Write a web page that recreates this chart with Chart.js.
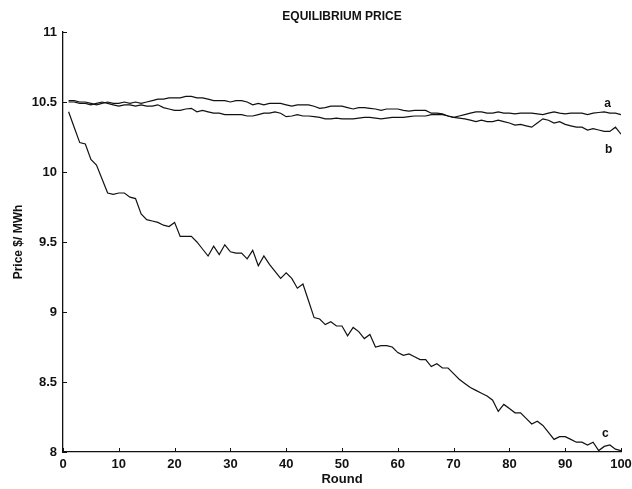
<!DOCTYPE html>
<html>
<head>
<meta charset="utf-8">
<script src="https://cdn.jsdelivr.net/npm/chart.js@4/dist/chart.umd.min.js"></script>
<style>
html,body{margin:0;padding:0;background:#fff;}
#wrap{width:632px;height:489px;position:relative;}
</style>
</head>
<body>
<div id="wrap"><canvas id="c" width="632" height="489"></canvas></div>
<script>
const rounds = Array.from({length: 100}, (_, i) => i + 1);

const seriesA = [10.50,10.50,10.49,10.49,10.48,10.49,10.50,10.49,10.48,10.47,
 10.48,10.48,10.47,10.48,10.47,10.47,10.48,10.46,10.45,10.44,
 10.44,10.45,10.455,10.43,10.44,10.43,10.42,10.42,10.41,10.41,
 10.41,10.41,10.40,10.40,10.41,10.42,10.42,10.43,10.42,10.395,
 10.40,10.41,10.40,10.40,10.395,10.39,10.38,10.38,10.385,10.38,
 10.38,10.38,10.385,10.39,10.39,10.385,10.38,10.385,10.39,10.39,
 10.39,10.395,10.40,10.40,10.40,10.41,10.41,10.41,10.40,10.39,
 10.40,10.41,10.42,10.43,10.43,10.42,10.42,10.43,10.42,10.42,
 10.415,10.42,10.42,10.42,10.415,10.41,10.42,10.43,10.42,10.415,
 10.42,10.42,10.42,10.41,10.42,10.425,10.43,10.42,10.42,10.41];

const seriesB = [10.51,10.51,10.50,10.50,10.49,10.48,10.49,10.50,10.49,10.49,
 10.50,10.49,10.50,10.49,10.50,10.51,10.52,10.52,10.53,10.53,
 10.53,10.54,10.54,10.53,10.53,10.52,10.51,10.51,10.51,10.50,
 10.51,10.51,10.50,10.48,10.49,10.48,10.49,10.49,10.49,10.48,
 10.47,10.48,10.48,10.48,10.47,10.455,10.46,10.47,10.47,10.47,
 10.46,10.45,10.46,10.46,10.455,10.45,10.44,10.45,10.45,10.45,
 10.44,10.435,10.44,10.44,10.44,10.42,10.42,10.415,10.40,10.39,
 10.385,10.38,10.37,10.36,10.37,10.36,10.36,10.37,10.36,10.35,
 10.335,10.34,10.33,10.32,10.35,10.38,10.37,10.35,10.36,10.34,
 10.33,10.32,10.32,10.30,10.31,10.30,10.29,10.29,10.32,10.27];

const seriesC = [10.43,10.32,10.21,10.20,10.09,10.05,9.95,9.85,9.84,9.85,
 9.85,9.82,9.81,9.70,9.66,9.65,9.64,9.62,9.61,9.64,
 9.54,9.54,9.54,9.50,9.45,9.40,9.47,9.41,9.48,9.43,
 9.42,9.42,9.38,9.44,9.33,9.40,9.34,9.29,9.24,9.28,
 9.24,9.17,9.20,9.08,8.96,8.95,8.91,8.93,8.90,8.90,
 8.83,8.89,8.86,8.81,8.84,8.75,8.76,8.76,8.75,8.71,
 8.69,8.70,8.68,8.66,8.66,8.61,8.63,8.60,8.60,8.56,
 8.52,8.49,8.46,8.44,8.42,8.40,8.37,8.29,8.34,8.31,
 8.28,8.28,8.24,8.20,8.22,8.19,8.14,8.09,8.11,8.11,
 8.09,8.07,8.07,8.05,8.07,8.01,8.04,8.05,8.02,8.01];

const seriesNames = ['a', 'b', 'c'];
const labelX = [97.6, 97.8, 97.2];
const labelY = [10.49, 10.16, 8.13];

const xTicks = [0,10,20,30,40,50,60,70,80,90,100];
const yTicks = [8,8.5,9,9.5,10,10.5,11];

const FONT = "'Liberation Sans', Arial, Helvetica, sans-serif";
const INK = '#111';

const innerTicks = {
  id: 'innerTicks',
  afterDatasetsDraw(chart) {
    const {ctx, chartArea, scales} = chart;
    ctx.save();
    ctx.strokeStyle = INK;
    ctx.lineWidth = 1;
    ctx.beginPath();
    yTicks.forEach(v => {
      const y = Math.round(scales.y.getPixelForValue(v)) + 0.5;
      ctx.moveTo(chartArea.left, y);
      ctx.lineTo(chartArea.left + 4, y);
    });
    xTicks.forEach(v => {
      const x = Math.round(scales.x.getPixelForValue(v)) + 0.5;
      ctx.moveTo(x, chartArea.bottom);
      ctx.lineTo(x, chartArea.bottom - 4);
    });
    ctx.stroke();
    ctx.fillStyle = INK;
    ctx.font = 'bold 12px ' + FONT;
    ctx.textAlign = 'center';
    ctx.textBaseline = 'middle';
    seriesNames.forEach((n, i) => {
      ctx.fillText(n, scales.x.getPixelForValue(labelX[i]), scales.y.getPixelForValue(labelY[i]));
    });
    ctx.restore();
  }
};

const mk = (data) => ({
  data: data,
  borderColor: INK,
  borderWidth: 1.2,
  pointRadius: 0,
  tension: 0,
  fill: false
});

new Chart(document.getElementById('c'), {
  type: 'line',
  data: {
    labels: rounds,
    datasets: [mk(seriesA), mk(seriesB), mk(seriesC)]
  },
  options: {
    responsive: false,
    animation: false,
    devicePixelRatio: 1,
    layout: { padding: { top: 0, right: 11, bottom: 0, left: 0 } },
    plugins: {
      legend: { display: false },
      tooltip: { enabled: false },
      title: {
        display: true,
        text: 'EQUILIBRIUM PRICE',
        fullSize: false,
        color: INK,
        font: { family: FONT, size: 12, weight: 'bold', lineHeight: 1.2 },
        padding: { top: 9, bottom: 8.6 }
      }
    },
    scales: {
      x: {
        type: 'linear',
        min: 0, max: 100,
        afterBuildTicks: (s) => { s.ticks = xTicks.map(v => ({value: v})); },
        afterFit: (s) => { s.height = 37; s.paddingLeft = 0; s.paddingRight = 0; },
        grid: { display: true, drawOnChartArea: false, drawTicks: false },
        border: { display: true, color: INK, width: 1.3 },
        ticks: { color: INK, padding: 5, maxRotation: 0, autoSkip: false,
                 callback: (v) => String(v),
                 font: { family: FONT, size: 13, weight: 'bold' } },
        title: { display: true, text: 'Round', color: INK,
                 font: { family: FONT, size: 13, weight: 'bold', lineHeight: 1.2 },
                 padding: { top: 0, bottom: 2 } }
      },
      y: {
        type: 'linear',
        min: 8, max: 11,
        afterBuildTicks: (s) => { s.ticks = yTicks.map(v => ({value: v})); },
        afterFit: (s) => { s.width = 63; s.paddingTop = 0; s.paddingBottom = 0; },
        grid: { display: true, drawOnChartArea: false, drawTicks: false },
        border: { display: true, color: INK, width: 1.3 },
        ticks: { color: INK, padding: 6, autoSkip: false,
                 callback: (v) => String(v),
                 font: { family: FONT, size: 13, weight: 'bold' } },
        title: { display: true, text: 'Price $/ MWh', color: INK,
                 font: { family: FONT, size: 12, weight: 'bold', lineHeight: 1.2 },
                 padding: { top: 11, bottom: 0 } }
      }
    }
  },
  plugins: [innerTicks]
});
</script>
</body>
</html>
